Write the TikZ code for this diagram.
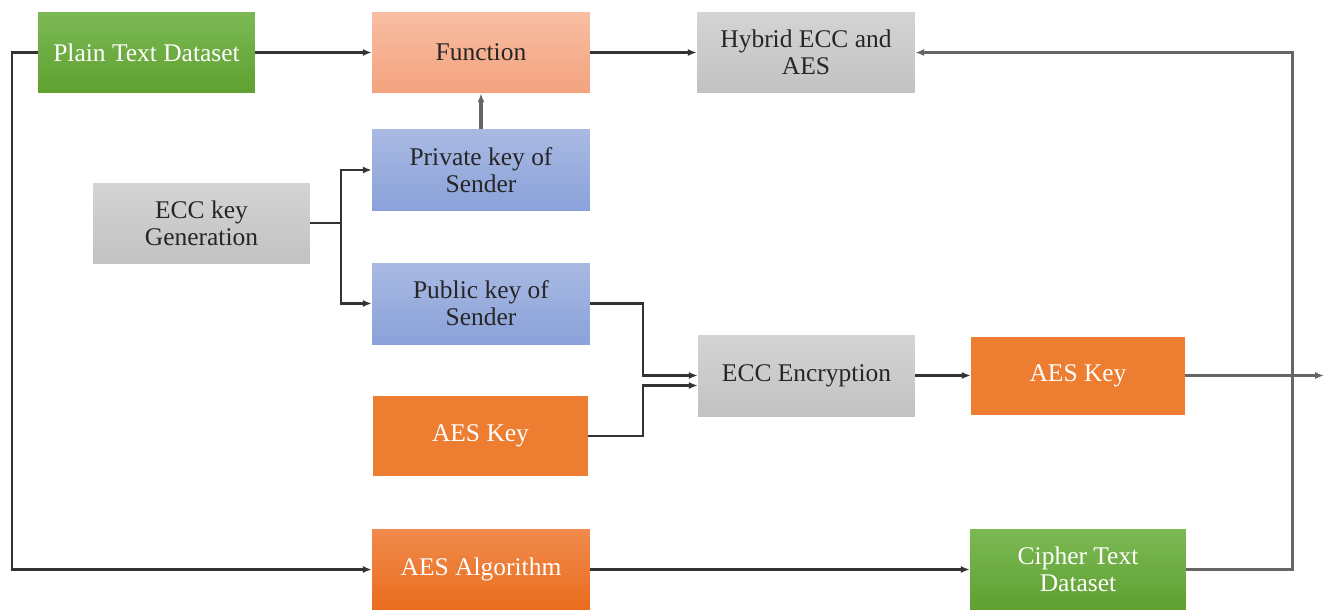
\documentclass[tikz,border=0pt]{standalone}
\usepackage{fontspec}
\setmainfont{Liberation Serif}
\usetikzlibrary{arrows.meta,calc}
\definecolor{gtop}{HTML}{7CB955}\definecolor{gbot}{HTML}{5FA030}
\definecolor{stop}{HTML}{F8BEA3}\definecolor{sbot}{HTML}{F4A27E}
\definecolor{ytop}{HTML}{D4D4D4}\definecolor{ybot}{HTML}{C2C2C2}
\definecolor{btop}{HTML}{A9B9E2}\definecolor{bbot}{HTML}{8AA2DA}
\definecolor{orng}{HTML}{ED7D31}
\definecolor{otop}{HTML}{F08B4C}\definecolor{obot}{HTML}{EA6C1E}
\definecolor{txt}{HTML}{262626}
\definecolor{ln}{HTML}{333333}
\definecolor{lng}{HTML}{666666}
\begin{document}
\begin{tikzpicture}[x=0.02cm,y=-0.02cm,
  base/.style={rectangle, inner sep=2pt, align=center, minimum width=4.36cm, minimum height=1.62cm,
    font=\fontsize{14.5}{15.5}\selectfont},
  greenbox/.style={base, top color=gtop, bottom color=gbot, text=white},
  salmonbox/.style={base, top color=stop, bottom color=sbot, text=txt},
  graybox/.style={base, top color=ytop, bottom color=ybot, text=txt},
  bluebox/.style={base, top color=btop, bottom color=bbot, text=txt},
  orangebox/.style={base, fill=orng, text=white},
  orangegrad/.style={base, top color=otop, bottom color=obot, text=white},
  arr/.style={draw=ln, line width=1.3pt, -{Latex[length=5pt,width=4pt]}},
  arrg/.style={draw=lng, line width=1.8pt, -{Latex[length=5pt,width=4pt]}}
]
\useasboundingbox (0,0) rectangle (1324,609);
\fill[white] (0,0) rectangle (1324,609);

\node[greenbox, minimum width=4.34cm] (plain) at (146.5,52.5) {Plain Text Dataset};
\node[salmonbox] (func) at (481,52.5) {Function};
\node[graybox] (hybrid) at (806,52.5) {Hybrid ECC and\\AES};
\node[bluebox, minimum height=1.64cm] (priv) at (481,170) {Private key of\\Sender};
\node[graybox, minimum width=4.34cm, minimum height=1.6cm] (eccgen) at (201.5,223) {ECC key\\Generation};
\node[bluebox] (pub) at (481,303.5) {Public key of\\Sender};
\node[graybox, minimum width=4.34cm] (eccenc) at (806.5,375.5) {ECC Encryption};
\node[orangebox, minimum width=4.3cm, minimum height=1.6cm] (aes1) at (480.5,436) {AES Key};
\node[orangebox, minimum width=4.28cm, minimum height=1.56cm] (aes2) at (1078,375.5) {AES Key};
\node[orangegrad] (aesalg) at (481,569.5) {AES Algorithm};
\node[greenbox, minimum width=4.32cm] (cipher) at (1078,569.5) {Cipher Text\\Dataset};

\coordinate (edge) at (1324,375.5);

\draw[arr] (plain.east) -- (func.west);
\draw[arr] (func.east) -- (hybrid.west);
\draw[arrg] (priv.north) -- (func.south);
\draw[arr] (eccgen.east) -- ++(31,0) |- (priv.west);
\draw[arr] (eccgen.east) -- ++(31,0) |- (pub.west);
\draw[arr] (pub.east) -- ++(53,0) |- (eccenc.west);
\draw[arr] (aes1.east) -- ++(55,0) |- ($(eccenc.west)+(0,10)$);
\draw[arr] (eccenc.east) -- (aes2.west);
\draw[arrg] (aes2.east) -- (edge);
\draw[arr] (plain.west) -- ++(-26,0) |- (aesalg.west);
\draw[arr] (aesalg.east) -- (cipher.west);
\draw[arrg] (cipher.east) -- ++(106,0) |- (hybrid.east);
\end{tikzpicture}
\end{document}
